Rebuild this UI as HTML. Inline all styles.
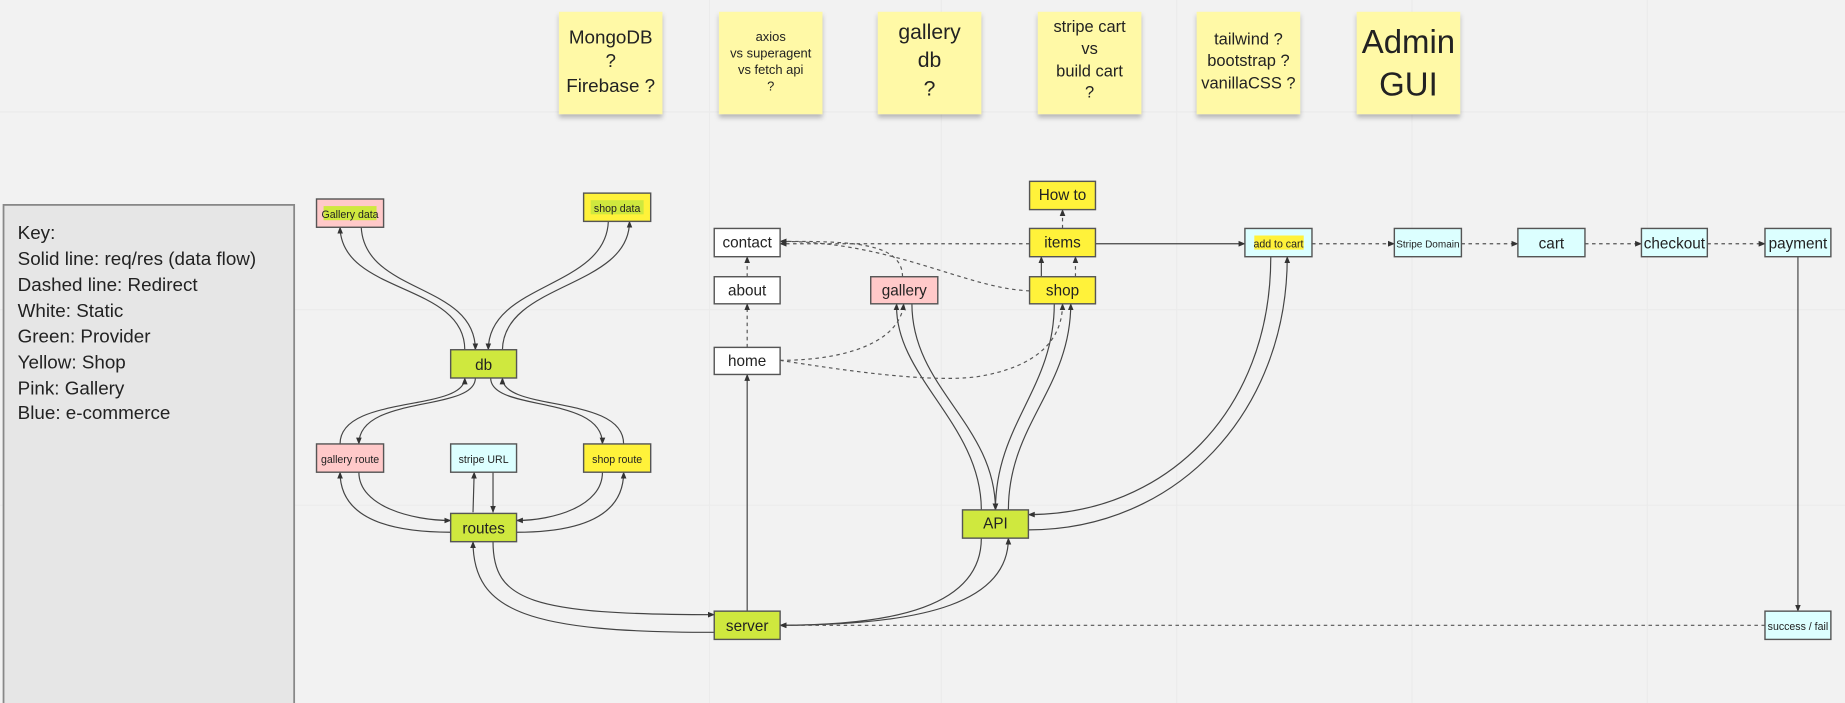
<!DOCTYPE html>
<html><head><meta charset="utf-8"><style>
html,body{margin:0;padding:0;background:#f2f2f2;width:1845px;height:703px;overflow:hidden}
svg{display:block}
text{font-family:"Liberation Sans",sans-serif;fill:#222}
</style></head><body>
<svg width="1845" height="703" viewBox="0 0 1568 597" preserveAspectRatio="none" xmlns="http://www.w3.org/2000/svg">
<defs>
<marker id="a" viewBox="0 0 10 10" refX="9" refY="5" markerWidth="6" markerHeight="6" orient="auto"><path d="M0,1 L10,5 L0,9 z" fill="#333"/></marker>
<filter id="sh" x="-10%" y="-10%" width="120%" height="130%"><feDropShadow dx="0" dy="3" stdDeviation="2" flood-color="#000" flood-opacity="0.25"/></filter>
</defs>
<rect width="1568" height="597" fill="#f2f2f2"/>
<g stroke="#ebebeb" stroke-width="1">
<line x1="0" y1="95" x2="1568" y2="95"/><line x1="0" y1="263" x2="1568" y2="263"/><line x1="0" y1="429" x2="1568" y2="429"/>
<line x1="603" y1="0" x2="603" y2="597"/><line x1="800" y1="0" x2="800" y2="597"/><line x1="1000" y1="0" x2="1000" y2="597"/><line x1="1200" y1="0" x2="1200" y2="597"/><line x1="1400" y1="0" x2="1400" y2="597"/>
</g>

<g filter="url(#sh)" fill="#fff9a6">
<rect x="475" y="10" width="88" height="87"/><rect x="611" y="10" width="88" height="87"/><rect x="746" y="10" width="88" height="87"/>
<rect x="882" y="10" width="88" height="87"/><rect x="1017" y="10" width="88" height="87"/><rect x="1153" y="10" width="88" height="87"/>
</g>
<g text-anchor="middle">
<text x="519" y="37" font-size="16">MongoDB</text><text x="519" y="57" font-size="16">?</text><text x="519" y="78" font-size="16">Firebase ?</text>
<text x="655" y="35" font-size="11">axios</text><text x="655" y="49" font-size="11">vs superagent</text><text x="655" y="63" font-size="11">vs fetch api</text><text x="655" y="77" font-size="11">?</text>
<text x="790" y="33" font-size="18">gallery</text><text x="790" y="57" font-size="18">db</text><text x="790" y="81" font-size="18">?</text>
<text x="926" y="27" font-size="14">stripe cart</text><text x="926" y="46" font-size="14">vs</text><text x="926" y="65" font-size="14">build cart</text><text x="926" y="83" font-size="14">?</text>
<text x="1061" y="38" font-size="14">tailwind ?</text><text x="1061" y="56" font-size="14">bootstrap ?</text><text x="1061" y="75" font-size="14">vanillaCSS ?</text>
<text x="1197" y="45" font-size="28">Admin</text><text x="1197" y="81" font-size="28">GUI</text>
</g>

<rect x="3" y="174" width="247" height="430" fill="#e6e6e6" stroke="#888" stroke-width="1.5"/>
<g font-size="16">
<text x="15" y="203">Key:</text><text x="15" y="225">Solid line: req/res (data flow)</text><text x="15" y="247">Dashed line: Redirect</text>
<text x="15" y="269">White: Static</text><text x="15" y="291">Green: Provider</text><text x="15" y="313">Yellow: Shop</text>
<text x="15" y="335">Pink: Gallery</text><text x="15" y="356">Blue: e-commerce</text>
</g>

<g fill="none" stroke="#444" stroke-width="1" marker-end="url(#a)">
<path d="M395,297 C395,240 290,250 289,193"/>
<path d="M307,193 C310,250 404,240 404,297"/>
<path d="M517,188 C515,245 415,240 415,297"/>
<path d="M427,297 C428,240 535,245 535,188"/>
<path d="M404,321 C404,350 305,335 305,377"/>
<path d="M289,377 C289,335 395,350 395,321"/>
<path d="M417,321 C417,350 512,335 512,377"/>
<path d="M530,377 C530,335 427,350 427,321"/>
<path d="M305,401 C305,430 350,442 383,442"/>
<path d="M383,452 C330,452 289,440 289,401"/>
<path d="M512,401 C512,430 470,442 439,442"/>
<path d="M439,452 C500,452 530,435 530,401"/>
<path d="M402,435 L403,401"/>
<path d="M419,401 L419,435"/>
<path d="M419,460 C419,510 450,522 607,522"/>
<path d="M607,537 C450,537 402,520 402,460"/>
<path d="M635,519 L635,318"/>
<path d="M885,235 L885,218"/>
<path d="M931,207 L1058,207"/>
<path d="M1528,218 L1528,519"/>
<path d="M834,433 C834,360 760,320 762,258"/>
<path d="M775,258 C775,330 846,360 846,433"/>
<path d="M896,258 C896,330 846,360 846,433"/>
<path d="M857,433 C857,360 910,330 910,258"/>
<path d="M1080,218 C1080,350 990,437 874,437"/>
<path d="M874,450 C1000,450 1094,350 1094,218"/>
<path d="M834,457 C834,515 760,531 663,531"/>
<path d="M663,531 C790,531 857,510 857,457"/>
</g>
<g fill="none" stroke="#555" stroke-width="1" stroke-dasharray="3,3" marker-end="url(#a)">
<path d="M635,295 L635,258"/>
<path d="M635,235 L635,218"/>
<path d="M663,306 C720,306 765,290 768,258"/>
<path d="M663,306 C720,315 790,325 830,320 C880,312 903,290 903,258"/>
<path d="M767,235 C767,205 720,205 663,205"/>
<path d="M875,247 C820,245 760,205 663,205"/>
<path d="M875,207 L663,207"/>
<path d="M914,235 L914,218"/>
<path d="M903,194 L903,178"/>
<path d="M1115,207 L1185,207"/>
<path d="M1242,207 L1290,207"/>
<path d="M1347,207 L1395,207"/>
<path d="M1451,207 L1500,207"/>
<path d="M1500,531 L663,531"/>
</g>

<g stroke="#555" stroke-width="1.2">
<rect x="269" y="169" width="57" height="24" fill="#ffc9c9"/>
<rect x="496" y="164" width="57" height="24" fill="#fff23a"/>
<rect x="383" y="297" width="56" height="24" fill="#cfe83e"/>
<rect x="269" y="377" width="57" height="24" fill="#ffc9c9"/>
<rect x="383" y="377" width="56" height="24" fill="#dcffff"/>
<rect x="496" y="377" width="57" height="24" fill="#fff23a"/>
<rect x="383" y="436" width="56" height="24" fill="#cfe83e"/>
<rect x="607" y="519" width="56" height="24" fill="#cfe83e"/>
<rect x="607" y="295" width="56" height="23" fill="#fff"/>
<rect x="607" y="235" width="56" height="23" fill="#fff"/>
<rect x="607" y="194" width="56" height="24" fill="#fff"/>
<rect x="740" y="235" width="57" height="23" fill="#ffc9c9"/>
<rect x="875" y="194" width="56" height="24" fill="#fff23a"/>
<rect x="875" y="235" width="56" height="23" fill="#fff23a"/>
<rect x="875" y="154" width="56" height="24" fill="#fff23a"/>
<rect x="818" y="433" width="56" height="24" fill="#cfe83e"/>
<rect x="1058" y="194" width="57" height="24" fill="#dcffff"/>
<rect x="1185" y="194" width="57" height="24" fill="#dcffff"/>
<rect x="1290" y="194" width="57" height="24" fill="#dcffff"/>
<rect x="1395" y="194" width="56" height="24" fill="#dcffff"/>
<rect x="1500" y="194" width="56" height="24" fill="#dcffff"/>
<rect x="1500" y="519" width="56" height="24" fill="#dcffff"/>
</g>
<rect x="275" y="175" width="45" height="12" fill="#cfe83e"/>
<rect x="502" y="170" width="45" height="12" fill="#cfe83e"/>
<rect x="1066" y="200" width="42" height="12" fill="#fff23a"/>
<g text-anchor="middle">
<text x="297.5" y="185" font-size="9">Gallery data</text>
<text x="524.5" y="180" font-size="9">shop data</text>
<text x="411" y="314" font-size="13">db</text>
<text x="297.5" y="393" font-size="9">gallery route</text>
<text x="411" y="393" font-size="9">stripe URL</text>
<text x="524.5" y="393" font-size="9">shop route</text>
<text x="411" y="453" font-size="13">routes</text>
<text x="635" y="536" font-size="13">server</text>
<text x="635" y="311" font-size="13">home</text>
<text x="635" y="251" font-size="13">about</text>
<text x="635" y="210" font-size="13">contact</text>
<text x="768.5" y="251" font-size="13">gallery</text>
<text x="903" y="210" font-size="13">items</text>
<text x="903" y="251" font-size="13">shop</text>
<text x="903" y="170" font-size="13">How to</text>
<text x="846" y="449" font-size="13">API</text>
<text x="1086.5" y="210" font-size="9">add to cart</text>
<text x="1213.5" y="210" font-size="8.5">Stripe Domain</text>
<text x="1318.5" y="211" font-size="13">cart</text>
<text x="1423" y="211" font-size="13">checkout</text>
<text x="1528" y="211" font-size="13">payment</text>
<text x="1528" y="535" font-size="9">success  / fail</text>
</g>
</svg>
</body></html>
